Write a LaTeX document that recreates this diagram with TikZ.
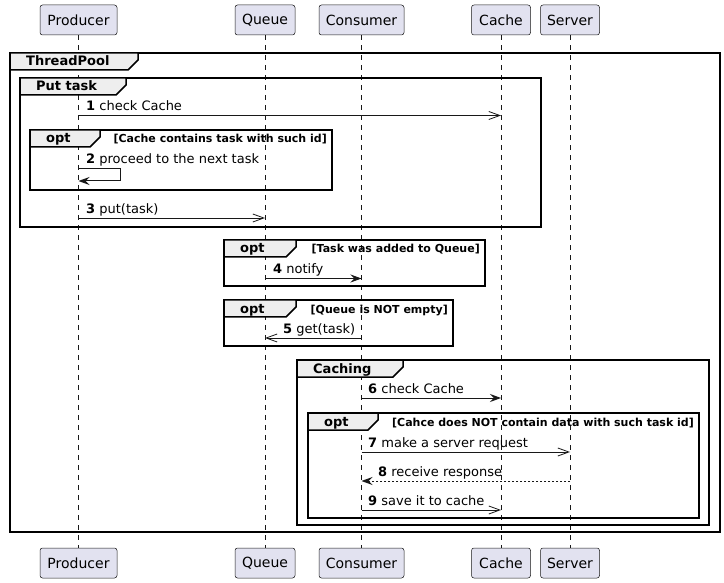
\documentclass[tikz,border=0pt]{standalone}
\usepackage{fontspec}
\setmainfont{DejaVu Sans}
\usepackage{tikz}
\usetikzlibrary{positioning, arrows.meta, calc}
\definecolor{PartFill}{HTML}{E2E2F0}
\definecolor{LineColor}{HTML}{181818}
\definecolor{TabFill}{HTML}{EEEEEE}
\tikzstyle{participant} = [rectangle, rounded corners=2.5pt, draw=LineColor, line width=0.5pt, fill=PartFill, minimum height=30pt, inner sep=0pt, font=\fontsize{14}{16}\selectfont]
\tikzstyle{lifeline} = [LineColor, line width=0.5pt, dash pattern=on 5pt off 5pt]
\tikzstyle{msg} = [LineColor, line width=1pt, -{Stealth[length=11pt, width=8pt, inset=4pt]}]
\tikzstyle{async} = [LineColor, line width=0.8pt, -{Straight Barb[length=11pt, width=8pt]}]
\tikzstyle{reply} = [msg, dash pattern=on 2pt off 2pt]
\tikzstyle{frame} = [black, line width=1.5pt]
\tikzstyle{tab} = [frame, fill=TabFill]
\tikzstyle{label} = [font=\fontsize{13}{15}\selectfont, anchor=base west, inner sep=0pt]
\tikzstyle{guard} = [font=\bfseries\fontsize{11}{13}\selectfont, anchor=base east, inner sep=0pt]
\tikzstyle{title} = [font=\bfseries\fontsize{13}{15}\selectfont, anchor=base west, inner sep=0pt]
% #1 left, #2 top, #3 right, #4 bottom, #5 tab right, #6 title
\newcommand{\umlframe}[6]{%
  \draw[frame] (#1,#2) rectangle (#3,#4);
  \draw[tab] (#1,#2) -- (#5,#2) -- (#5,#2+7) -- (#5-10,#2+17) -- (#1,#2+17) -- cycle;
  \node[title] at (#1+16,#2+13) {#6};
}
\begin{document}
\begin{tikzpicture}[x=1pt, y=-1pt]
  \useasboundingbox (0,0) rectangle (724,583);
  % Participants
  \node[participant, minimum width=77pt] (prodTop) at (78.5,20) {Producer};
  \node[participant, minimum width=60pt] (queueTop) at (265,20) {Queue};
  \node[participant, minimum width=85pt] (consTop) at (361.5,20) {Consumer};
  \node[participant, minimum width=59pt] (cacheTop) at (501,20) {Cache};
  \node[participant, minimum width=59pt] (servTop) at (570,20) {Server};

  \node[participant, minimum width=77pt] (prodBot) at (78.5,563) {Producer};
  \node[participant, minimum width=60pt] (queueBot) at (265,563) {Queue};
  \node[participant, minimum width=85pt] (consBot) at (361.5,563) {Consumer};
  \node[participant, minimum width=59pt] (cacheBot) at (501,563) {Cache};
  \node[participant, minimum width=59pt] (servBot) at (570,563) {Server};

  % Lifelines
  \draw[lifeline] (prodTop) -- (prodBot);
  \draw[lifeline] (queueTop) -- (queueBot);
  \draw[lifeline] (consTop) -- (consBot);
  \draw[lifeline] (cacheTop) -- (cacheBot);
  \draw[lifeline] (servTop) -- (servBot);

  % Frames
  \umlframe{10}{53}{720}{532}{138}{ThreadPool}
  \umlframe{20}{78}{541}{227}{126}{Put task}
  \umlframe{30}{130}{332}{190}{100}{opt}
  \node[guard] at (327,143) {[Cache contains task with such id]};
  \umlframe{224}{240}{485}{286}{296}{opt}
  \node[guard] at (480,253) {[Task was added to Queue]};
  \umlframe{224}{300}{453}{346}{296}{opt}
  \node[guard] at (448,313) {[Queue is NOT empty]};
  \umlframe{297}{360}{709}{525}{403}{Caching}
  \umlframe{308}{413}{699}{518}{378}{opt}
  \node[guard] at (694,426) {[Cahce does NOT contain data with such task id]};

  % Message points
  \coordinate (m1a) at (prodTop |- 0,115.5);
  \coordinate (m1b) at (cacheTop |- 0,115.5);
  \coordinate (m2a) at (prodTop |- 0,168.5);
  \coordinate (m2b) at (prodTop |- 0,181);
  \coordinate (self1) at (120,168.5);
  \coordinate (self2) at (120,181);
  \coordinate (m3a) at (prodTop |- 0,218);
  \coordinate (m3b) at (queueTop |- 0,218);
  \coordinate (m4a) at (queueTop |- 0,278.5);
  \coordinate (m4b) at (consTop |- 0,278.5);
  \coordinate (m5a) at (consTop |- 0,338);
  \coordinate (m5b) at (queueTop |- 0,338);
  \coordinate (m6a) at (consTop |- 0,398);
  \coordinate (m6b) at (cacheTop |- 0,398);
  \coordinate (m7a) at (consTop |- 0,452);
  \coordinate (m7b) at (servTop |- 0,452);
  \coordinate (m8a) at (servTop |- 0,481);
  \coordinate (m8b) at (consTop |- 0,481);
  \coordinate (m9a) at (consTop |- 0,510);
  \coordinate (m9b) at (cacheTop |- 0,510);

  % Messages
  \draw[async] (m1a) -- (m1b);
  \node[label] (t1) at (86,111) {\textbf{1} check Cache};
  \draw[msg] (m2a) -- (self1) -- (self2) -- (m2b);
  \node[label] (t2) at (86,164) {\textbf{2} proceed to the next task};
  \draw[async] (m3a) -- (m3b);
  \node[label] (t3) at (86,213.5) {\textbf{3} put(task)};
  \draw[msg] (m4a) -- (m4b);
  \node[label] (t4) at (273,274) {\textbf{4} notify};
  \draw[async] (m5a) -- (m5b);
  \node[label] (t5) at (283,333.5) {\textbf{5} get(task)};
  \draw[msg] (m6a) -- (m6b);
  \node[label] (t6) at (368,393.5) {\textbf{6} check Cache};
  \draw[async] (m7a) -- (m7b);
  \node[label] (t7) at (368,447.5) {\textbf{7} make a server request};
  \draw[reply] (m8a) -- (m8b);
  \node[label] (t8) at (378,476.5) {\textbf{8} receive response};
  \draw[async] (m9a) -- (m9b);
  \node[label] (t9) at (368,505.5) {\textbf{9} save it to cache};
\end{tikzpicture}
\end{document}
